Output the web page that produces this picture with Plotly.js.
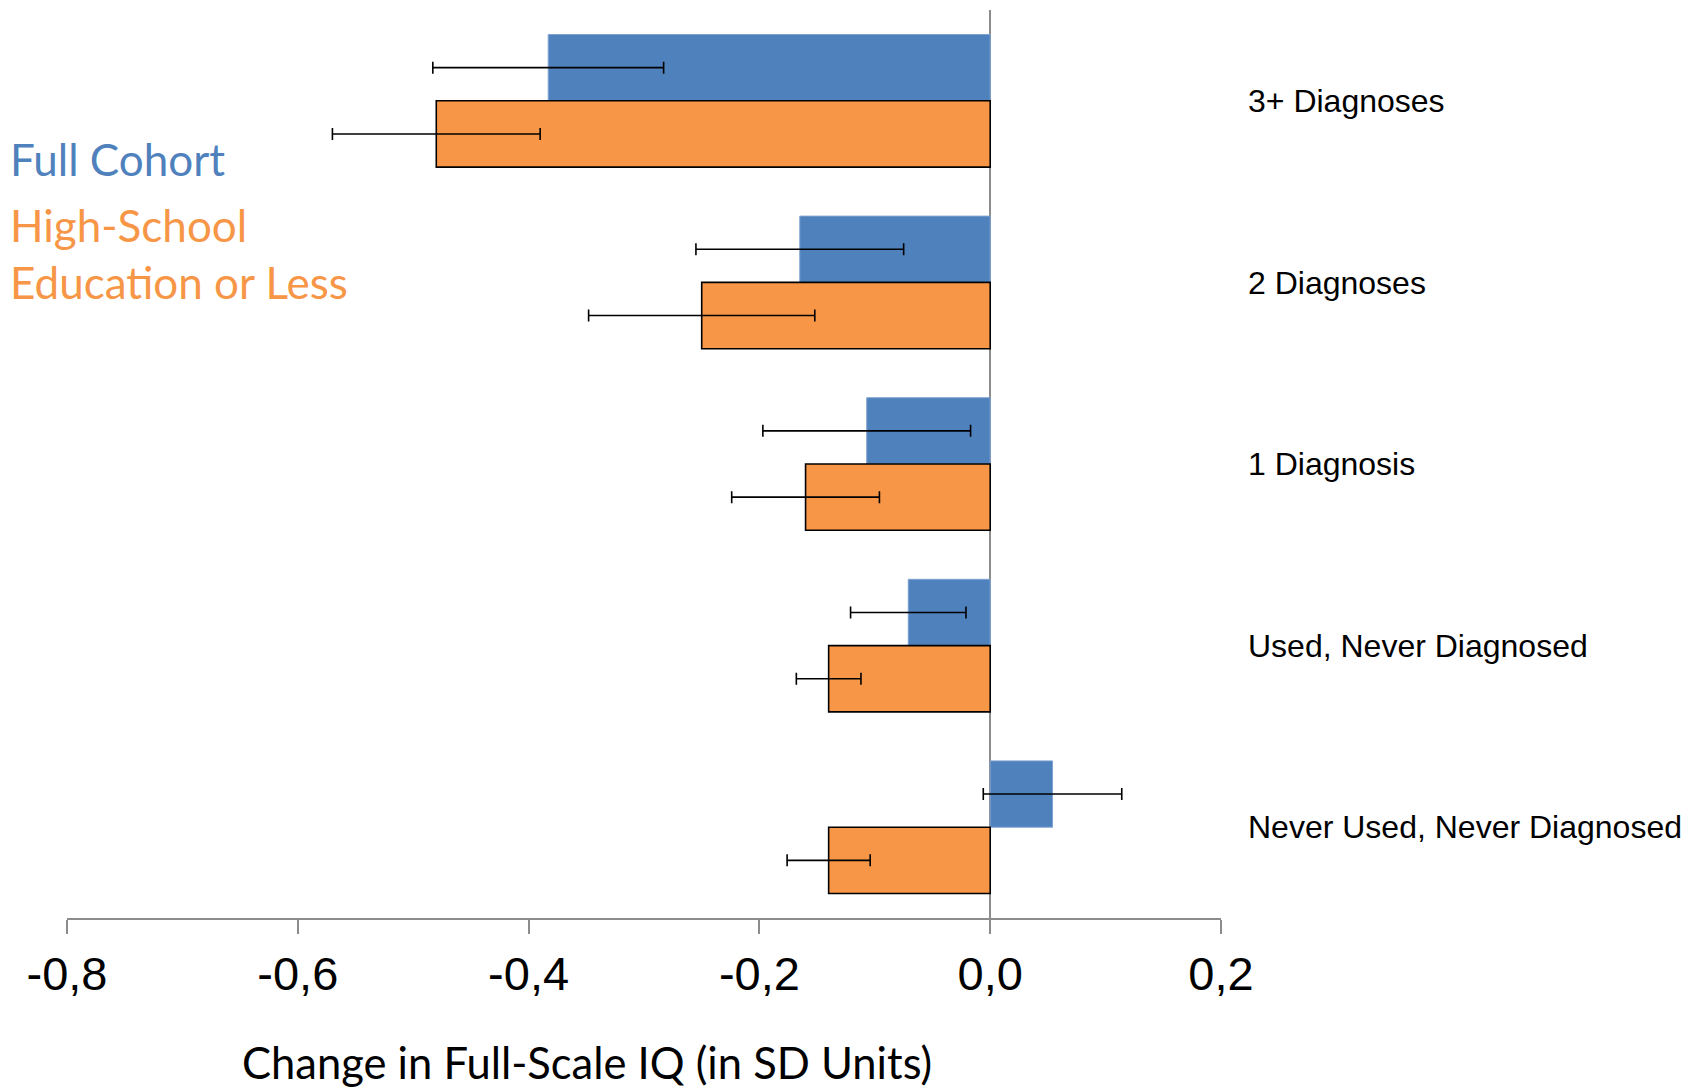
<!DOCTYPE html>
<html>
<head>
<meta charset="utf-8">
<script src="https://cdn.plot.ly/plotly-3.0.1.min.js"></script>
<style>html,body{margin:0;padding:0;background:#fff;}#chart{width:1705px;height:1092px;}</style>
</head>
<body>
<div id="chart"></div>
<script>
// Categories listed top to bottom
const categories = ["3+ Diagnoses", "2 Diagnoses", "1 Diagnosis", "Used, Never Diagnosed", "Never Used, Never Diagnosed"];
const fullCohort = [-0.383, -0.165, -0.107, -0.071, 0.054];
const fullCohortErr = [0.100, 0.090, 0.090, 0.050, 0.060];
const highSchool = [-0.480, -0.250, -0.160, -0.140, -0.140];
const highSchoolErr = [0.090, 0.098, 0.064, 0.028, 0.036];
const xTicks = [-0.8, -0.6, -0.4, -0.2, 0.0, 0.2];
const xTickText = ["-0,8", "-0,6", "-0,4", "-0,2", "0,0", "0,2"];
const seriesNames = ["Full Cohort", "High-School", "Education or Less"];
const xTitle = "Change in Full-Scale IQ (in SD Units)";

const W = 1705, H = 1092;
const M = {l: 67, r: 484, t: 10, b: 174};
const pw = W - M.l - M.r, ph = H - M.t - M.b;
const px2x = p => (p - M.l) / pw;
const py2y = p => (H - M.b - p) / ph;

const blue = "#4F81BD", orange = "#F79646";
const calibriLike = "Lato, Open Sans, sans-serif";

const traces = [
  {
    type: "bar", orientation: "h", name: seriesNames[0],
    y: categories, x: fullCohort,
    marker: {color: blue, line: {color: "#7FA2D0", width: 1}},
    error_x: {type: "data", array: fullCohortErr, visible: true, color: "#000", thickness: 1.6, width: 6},
    hoverinfo: "x+y"
  },
  {
    type: "bar", orientation: "h", name: seriesNames[1] + " " + seriesNames[2],
    y: categories, x: highSchool,
    marker: {color: orange, line: {color: "#000", width: 1.6}},
    error_x: {type: "data", array: highSchoolErr, visible: true, color: "#000", thickness: 1.6, width: 6},
    hoverinfo: "x+y"
  }
];

const legendAnn = (txt, py, color) => ({
  xref: "paper", yref: "paper", x: px2x(8), y: py2y(py), xanchor: "left", yanchor: "middle",
  text: txt, showarrow: false, font: {family: calibriLike, size: 44, color: color}
});

const layout = {
  width: W, height: H,
  margin: M,
  paper_bgcolor: "#fff", plot_bgcolor: "#fff",
  barmode: "group",
  bargap: 0.27,
  bargroupgap: 0,
  showlegend: false,
  xaxis: {
    range: [-0.8, 0.2],
    tickvals: xTicks,
    ticktext: xTickText,
    showgrid: false,
    zeroline: true, zerolinecolor: "#8C8C8C", zerolinewidth: 2,
    showline: true, linecolor: "#8C8C8C", linewidth: 2,
    ticks: "outside", ticklen: 14, tickwidth: 2, tickcolor: "#8C8C8C",
    tickfont: {family: "Liberation Sans, Arial, sans-serif", size: 47, color: "#000"},
    ticklabelstandoff: 0,
    fixedrange: true
  },
  yaxis: {
    type: "category",
    autorange: "reversed",
    side: "right",
    showline: false, showgrid: false, zeroline: false,
    ticks: "", ticklen: 0,
    ticklabelstandoff: 26,
    tickfont: {family: "Liberation Sans, Arial, sans-serif", size: 32, color: "#000"},
    fixedrange: true
  },
  annotations: [
    legendAnn(seriesNames[0], 159, blue),
    legendAnn(seriesNames[1], 225, orange),
    legendAnn(seriesNames[2], 281.5, orange),
    {xref: "paper", yref: "paper", x: px2x(587), y: py2y(1062), xanchor: "center", yanchor: "middle",
     text: xTitle, showarrow: false,
     font: {family: calibriLike, size: 43.5, color: "#000"}}
  ]
};

Plotly.newPlot("chart", traces, layout, {displayModeBar: false, staticPlot: true});
</script>
</body>
</html>
